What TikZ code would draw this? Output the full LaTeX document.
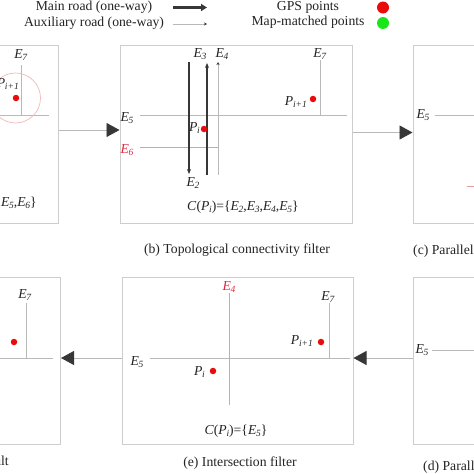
\documentclass[tikz,border=0pt]{standalone}
\usepackage{fontspec}
\setmainfont{Liberation Serif}
\usetikzlibrary{arrows.meta}
\definecolor{framegray}{RGB}{205,205,205}
\definecolor{roadgray}{RGB}{185,185,185}
\definecolor{darkline}{RGB}{55,55,55}
\definecolor{gpsred}{RGB}{232,12,12}
\definecolor{pinkline}{RGB}{240,150,160}
\definecolor{circpink}{RGB}{238,185,185}
\definecolor{labelred}{RGB}{228,40,60}
\definecolor{mmgreen}{RGB}{25,230,25}
\definecolor{txt}{RGB}{35,35,35}
\newcommand{\Ei}[1]{\textit{E}\kern-0.3pt\raisebox{-0.4ex}{\fontsize{9.5}{10}\selectfont\textit{#1}}}
\newcommand{\Pp}[1]{\textit{P}\kern-0.3pt\raisebox{-0.4ex}{\fontsize{9.5}{10}\selectfont\textit{#1}}}
\tikzset{
  panel/.style={draw=framegray, line width=1pt, rectangle, inner sep=0pt},
  tallpanel/.style={minimum width=232pt, minimum height=178pt},
  shortpanel/.style={minimum width=231pt, minimum height=167pt},
  road/.style={draw=roadgray, line width=0.8pt},
  redroad/.style={draw=pinkline, line width=0.8pt},
  mainroad/.style={draw=darkline, line width=1.6pt, -{Stealth[length=5pt,width=4pt]}},
  auxroad/.style={draw=roadgray, line width=0.8pt, -{Stealth[length=3pt,width=3pt,color=darkline]}},
  flow/.style={draw=roadgray, line width=0.9pt, -{Triangle[length=13pt,width=14pt,color=darkline]}},
  gps/.style={circle, fill=gpsred, inner sep=0pt, minimum size=6.5pt},
  lbl/.style={text=txt, inner sep=0pt},
  rlbl/.style={text=labelred, inner sep=0pt},
  captxt/.style={text=txt, inner sep=0pt}
}
\begin{document}
\begin{tikzpicture}[x=1pt,y=-1pt, font=\fontsize{13.7}{16}\selectfont]
\useasboundingbox (0,0) rectangle (474,474);
\begin{scope}
\clip (0,0) rectangle (474,474);
% ---------- legend ----------
\node[lbl] (lmain) at (94,7.5) {Main road (one-way)};
\node[lbl] (laux) at (94,23) {Auxiliary road (one-way)};
\coordinate (lm1) at (173,7.5); \coordinate (lm2) at (207,7.5);
\draw[draw=darkline, line width=2.4pt, -{Triangle[length=6pt,width=7pt]}] (lm1) -- (lm2);
\coordinate (la1) at (173,24); \coordinate (la2) at (207,24);
\draw[auxroad] (la1) -- (la2);
\node[lbl] (lgps) at (308,7.5) {GPS points};
\node[lbl] (lmm) at (308,22.5) {Map-matched points};
\node[circle, fill=gpsred, inner sep=0pt, minimum size=12pt] (dgps) at (383,7.5) {};
\node[circle, fill=mmgreen, inner sep=0pt, minimum size=12pt] (dmm) at (383,23) {};

% ---------- panels ----------
\node[panel, tallpanel] (pa) at (-58,134) {};
\node[panel, tallpanel] (pb) at (236,134) {};
\node[panel, tallpanel] (pc) at (529,134) {};
\node[panel, shortpanel] (pf) at (-55,360.5) {};
\node[panel, shortpanel] (pe) at (237.5,360.5) {};
\node[panel, shortpanel] (pd) at (528.5,360.5) {};

% flow arrows
\draw[flow] ([yshift=4pt]pa.east) -- ([yshift=4pt]pb.west);
\draw[flow] ([yshift=1.5pt]pb.east) -- ([yshift=1.5pt]pc.west);
\draw[flow] ([yshift=2.5pt]pd.west) -- ([yshift=2.5pt]pe.east);
\draw[flow] ([yshift=2.5pt]pe.west) -- ([yshift=2.5pt]pf.east);

% ---------- panel (a) ----------
\draw[road] (-10,115) -- (49,115);
\draw[road] (21,65) -- (21,115);
\draw[draw=circpink, line width=0.7pt] (15.5,98) circle (25);
\node[gps] (pa1) at (16,98) {};
\node[lbl] at (21,55) {\Ei{7}};
\node[lbl, anchor=east] at (19,84) {\Pp{i+1}};
\node[lbl, anchor=east] at (37,203) {\textit{C}(\Pp{i})=\{\Ei{2},\Ei{3},\Ei{4},\Ei{5},\Ei{6}\}};

% ---------- panel (b) ----------
\draw[road] (140,115) -- (347,115);
\draw[redroad] (140,147) -- (218,147);
\draw[road] (320,60) -- (320,115);
\draw[mainroad] (189,62) -- (189,174);
\draw[mainroad] (207,175) -- (207,63);
\draw[auxroad] (218,175) -- (218,62);
\node[lbl] at (127,118) {\Ei{5}};
\node[rlbl] at (127,150) {\Ei{6}};
\node[lbl] at (193,183) {\Ei{2}};
\node[lbl] at (200,54) {\Ei{3}};
\node[lbl] at (222,54) {\Ei{4}};
\node[lbl] at (320,54) {\Ei{7}};
\node[gps] (pbi) at (204,129) {};
\node[lbl, anchor=east] at (200,128) {\Pp{i}};
\node[gps] (pbj) at (313,99) {};
\node[lbl, anchor=east] at (307,102) {\Pp{i+1}};
\node[lbl] at (243,207) {\textit{C}(\Pp{i})=\{\Ei{2},\Ei{3},\Ei{4},\Ei{5}\}};
\node[captxt] at (237,250) {(b) Topological connectivity filter};

% ---------- panel (c) ----------
\draw[road] (435,115) -- (480,115);
\draw[redroad] (467,186) -- (480,186);
\node[lbl] at (423,115) {\Ei{5}};
\node[captxt, anchor=west] at (413,251) {(c) Parallel};

% ---------- panel (f) ----------
\draw[road] (-10,358) -- (53,358);
\draw[road] (26,303) -- (26,358);
\node[lbl] at (25,295) {\Ei{7}};
\node[gps] (pf1) at (14,342) {};
\node[captxt, anchor=east] at (9,461) {result};

% ---------- panel (e) ----------
\draw[road] (150,358) -- (350,358);
\draw[redroad] (229,293) -- (229,405);
\draw[road] (329,303) -- (329,358);
\node[rlbl] at (229,287) {\Ei{4}};
\node[lbl] at (328,297) {\Ei{7}};
\node[lbl] at (137,362) {\Ei{5}};
\node[gps] (pe1) at (321,342) {};
\node[lbl, anchor=east] at (313,341) {\Pp{i+1}};
\node[gps] (pe2) at (213,371) {};
\node[lbl, anchor=east] at (205,372) {\Pp{i}};
\node[lbl] at (236,431) {\textit{C}(\Pp{i})=\{\Ei{5}\}};
\node[captxt] at (240,463) {(e) Intersection filter};

% ---------- panel (d) ----------
\draw[road] (432,350) -- (480,350);
\node[lbl] at (422,350) {\Ei{5}};
\node[captxt, anchor=west] at (423,467) {(d) Parallel};
\end{scope}
\end{tikzpicture}
\end{document}
